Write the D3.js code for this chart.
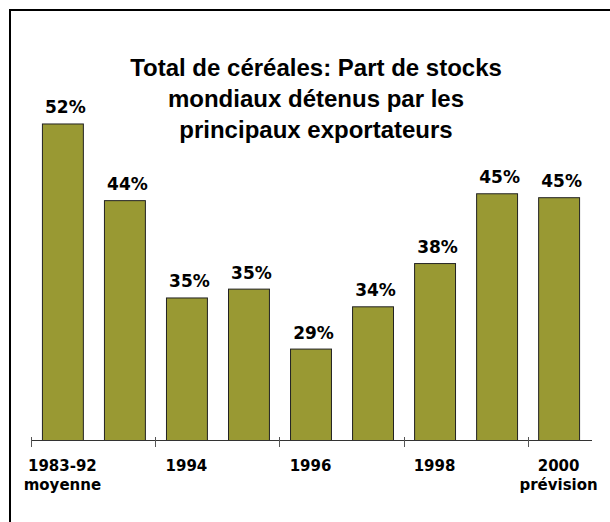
<!DOCTYPE html>
<html>
<head>
<meta charset="utf-8">
<script src="https://cdn.jsdelivr.net/npm/d3@7"></script>
<style>
body { margin: 0; background: #fff; }
.title { font-family: "Liberation Sans", Arial, sans-serif; font-weight: bold; font-size: 24px; }
.val { font-family: "DejaVu Sans", Verdana, sans-serif; font-weight: bold; font-size: 17px; }
.cat { font-family: "DejaVu Sans", Verdana, sans-serif; font-weight: bold; font-size: 15px; }
</style>
</head>
<body>
<div class="main"></div>
<script>
// chart data
var categories = ["1983-92", "1993", "1994", "1995", "1996", "1997", "1998", "1999", "2000"];
var shares = [52.2, 44.4, 34.5, 35.4, 29.3, 33.6, 38.0, 45.1, 44.7];
var tickLabels = [["1983-92", "moyenne"], [], ["1994"], [], ["1996"], [], ["1998"], [], ["2000", "prévision"]];
var titleLines = ["Total de céréales: Part de stocks", "mondiaux détenus par les", "principaux exportateurs"];

var width = 610, height = 522;
var baseY = 440;

var svg = d3.select(".main")
	.append("svg")
	.attr("width", width)
	.attr("height", height);

// frame (right and bottom edges fall outside the picture)
svg.append("rect")
	.attr("x", 10)
	.attr("y", 10)
	.attr("width", 640)
	.attr("height", 560)
	.style("fill", "none")
	.style("stroke", "#000")
	.style("stroke-width", 2);

var xScale = d3.scaleBand()
	.domain(categories)
	.range([32, 589])
	.paddingInner(0.34)
	.paddingOuter(0.16);

var yScale = d3.scaleLinear()
	.domain([20, 60])
	.range([baseY, baseY - 40 * 9.83]);

// title
svg.append("text")
	.attr("class", "title")
	.attr("text-anchor", "middle")
	.selectAll("tspan")
	.data(titleLines)
	.enter()
	.append("tspan")
	.attr("x", 316)
	.attr("y", function(d, i) { return 76 + i * 31; })
	.text(function(d) { return d; });

// bars
svg.append("g")
	.selectAll("rect")
	.data(shares)
	.enter()
	.append("rect")
	.attr("x", function(d, i) { return xScale(categories[i]) + 0.5; })
	.attr("y", function(d) { return yScale(d) + 0.5; })
	.attr("width", xScale.bandwidth())
	.attr("height", function(d) { return baseY - yScale(d); })
	.style("fill", "#999933")
	.style("stroke", "#222")
	.style("stroke-width", 1);

// value labels
svg.append("g")
	.selectAll("text")
	.data(shares)
	.enter()
	.append("text")
	.attr("class", "val")
	.attr("text-anchor", "middle")
	.attr("x", function(d, i) { return xScale(categories[i]) + xScale.bandwidth() / 2 + 3; })
	.attr("y", function(d) { return yScale(d) - 10; })
	.text(function(d) { return Math.round(d) + "%"; });

// x axis line
var gap = (xScale.step() - xScale.bandwidth()) / 2;
svg.append("line")
	.attr("x1", xScale(categories[0]) - gap)
	.attr("x2", 592)
	.attr("y1", baseY + 0.5)
	.attr("y2", baseY + 0.5)
	.style("stroke", "#333")
	.style("stroke-width", 1.2);

// ticks every second category
var tickCats = categories.filter(function(d, i) { return i % 2 == 0; });
svg.append("g")
	.selectAll("line")
	.data(tickCats)
	.enter()
	.append("line")
	.attr("x1", function(d) { return Math.round(xScale(d) - gap) + 0.5; })
	.attr("x2", function(d) { return Math.round(xScale(d) - gap) + 0.5; })
	.attr("y1", baseY - 3)
	.attr("y2", baseY + 7)
	.style("stroke", "#555")
	.style("stroke-width", 1);

// category labels
var labelG = svg.append("g")
	.selectAll("text")
	.data(categories)
	.enter()
	.append("text")
	.attr("class", "cat")
	.attr("text-anchor", "middle");
labelG.selectAll("tspan")
	.data(function(d, i) {
		var cx = xScale(d) + xScale.bandwidth() / 2;
		return tickLabels[i].map(function(t) { return {t: t, x: cx}; });
	})
	.enter()
	.append("tspan")
	.attr("x", function(d) { return d.x; })
	.attr("y", function(d, j) { return 471 + j * 19; })
	.text(function(d) { return d.t; });
</script>
</body>
</html>
